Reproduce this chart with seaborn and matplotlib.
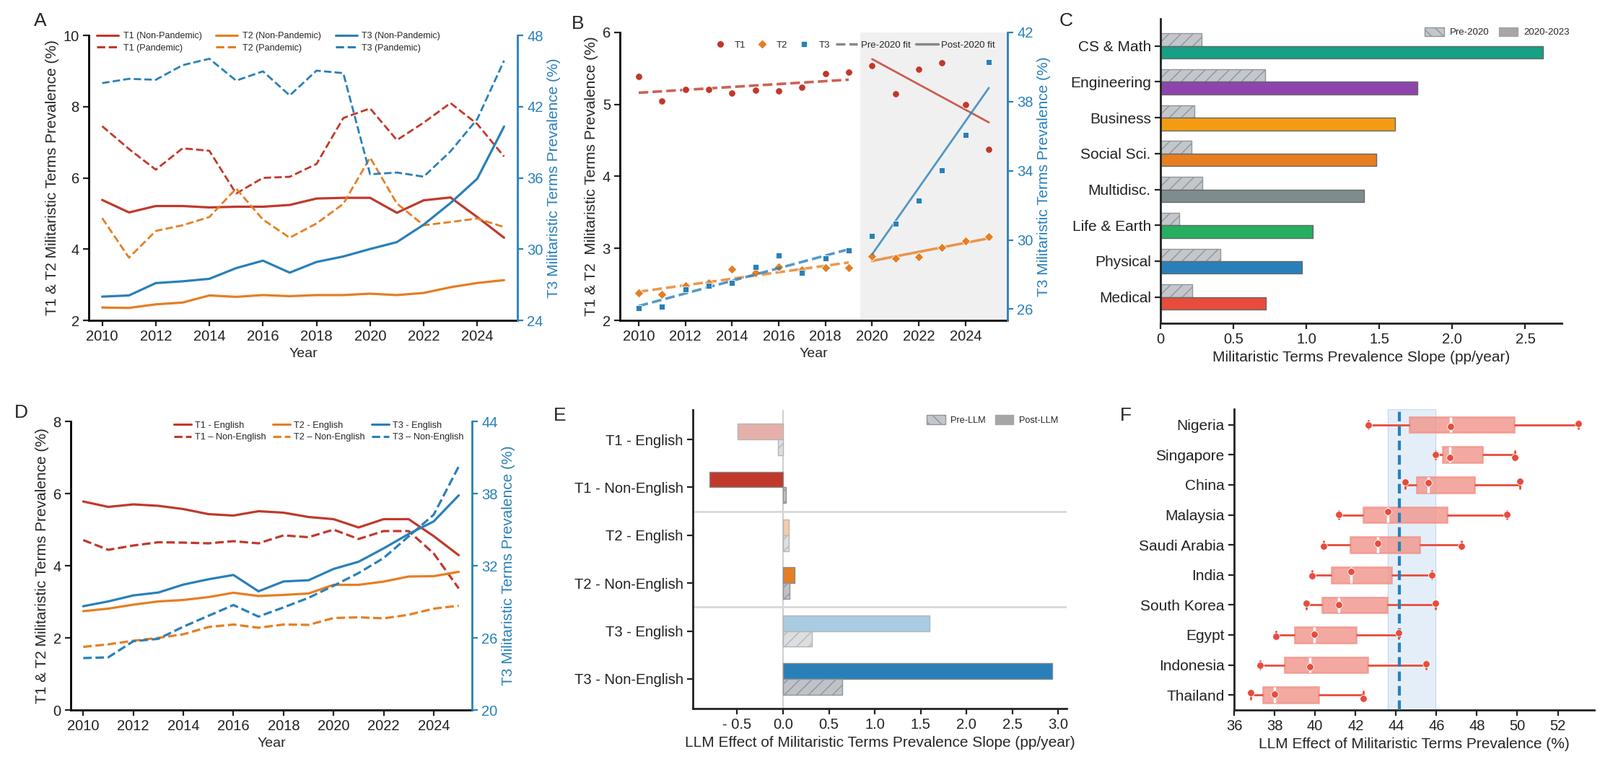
import numpy as np
import pandas as pd
import matplotlib
matplotlib.use("Agg")
import matplotlib.pyplot as plt
from matplotlib.lines import Line2D
from matplotlib.patches import Patch
import seaborn as sns

sns.set_theme(style="ticks")
plt.rcParams["font.family"] = ["Liberation Sans", "DejaVu Sans"]
plt.rcParams["axes.linewidth"] = 2
plt.rcParams["axes.edgecolor"] = "#222222"
plt.rcParams["xtick.major.width"] = 1.6
plt.rcParams["ytick.major.width"] = 1.6
plt.rcParams["xtick.major.size"] = 6
plt.rcParams["ytick.major.size"] = 6
plt.rcParams["xtick.color"] = "#222222"
plt.rcParams["ytick.color"] = "#222222"
plt.rcParams["hatch.linewidth"] = 1.0

RED, ORANGE, BLUE = "#c0392b", "#e67e22", "#2980b9"
TICK_FS, LAB_FS = 14.5, 15

years = np.arange(2010, 2026)

# ---------------- data ----------------
# A: pandemic vs non-pandemic topics
a_t1_np = [5.38, 5.03, 5.21, 5.21, 5.17, 5.19, 5.19, 5.24, 5.42, 5.44, 5.44, 5.02, 5.37, 5.45, 4.90, 4.32]
a_t1_p = [7.45, 6.81, 6.23, 6.83, 6.76, 5.56, 6.00, 6.03, 6.39, 7.68, 7.95, 7.06, 7.55, 8.10, 7.51, 6.60]
a_t2_np = [2.36, 2.35, 2.45, 2.50, 2.70, 2.66, 2.71, 2.68, 2.71, 2.71, 2.75, 2.71, 2.77, 2.93, 3.05, 3.13]
a_t2_p = [4.87, 3.76, 4.51, 4.67, 4.90, 5.70, 4.83, 4.32, 4.72, 5.27, 6.57, 5.28, 4.67, 4.76, 4.86, 4.62]
a_t3_np = [26.00, 26.10, 27.14, 27.29, 27.50, 28.40, 29.03, 28.02, 28.92, 29.38, 30.01, 30.59, 32.06, 33.88, 35.93, 40.32]
a_t3_p = [43.98, 44.34, 44.26, 45.49, 46.03, 44.19, 44.97, 42.94, 45.03, 44.82, 36.30, 36.45, 36.10, 38.23, 40.95, 45.87]

# B: yearly points, fits before / after 2020
b_t1 = [5.39, 5.05, 5.21, 5.21, 5.16, 5.20, 5.19, 5.24, 5.43, 5.45, 5.54, 5.15, 5.49, 5.58, 5.00, 4.38]
b_t2 = [2.38, 2.36, 2.48, 2.52, 2.71, 2.66, 2.74, 2.70, 2.73, 2.73, 2.89, 2.86, 2.88, 3.01, 3.10, 3.16]
b_t3 = [26.08, 26.15, 27.16, 27.34, 27.54, 28.42, 29.09, 28.09, 28.93, 29.41, 30.25, 30.94, 32.29, 34.05, 36.06, 40.30]

# C: slopes by field
fields = ["CS & Math", "Engineering", "Business", "Social Sci.", "Multidisc.",
          "Life & Earth", "Physical", "Medical"]
c_pre = [0.28, 0.717, 0.234, 0.215, 0.285, 0.128, 0.41, 0.22]
c_post = [2.62, 1.76, 1.605, 1.48, 1.397, 1.042, 0.97, 0.72]
c_colors = ["#16a085", "#8e44ad", "#f39c12", "#e67e22", "#7f8c8d", "#27ae60", "#2980b9", "#e74c3c"]

# D: English vs non-English
d_t1_en = [5.78, 5.63, 5.70, 5.66, 5.57, 5.43, 5.39, 5.51, 5.47, 5.35, 5.29, 5.06, 5.29, 5.29, 4.82, 4.29]
d_t1_ne = [4.71, 4.44, 4.56, 4.65, 4.64, 4.62, 4.68, 4.62, 4.84, 4.79, 5.00, 4.74, 4.96, 4.96, 4.34, 3.37]
d_t2_en = [2.74, 2.81, 2.92, 3.01, 3.05, 3.13, 3.25, 3.16, 3.19, 3.23, 3.47, 3.47, 3.56, 3.70, 3.71, 3.83]
d_t2_ne = [1.75, 1.82, 1.92, 2.00, 2.10, 2.30, 2.37, 2.28, 2.37, 2.36, 2.55, 2.57, 2.54, 2.64, 2.81, 2.89]
d_t3_en = [28.63, 29.03, 29.53, 29.77, 30.43, 30.87, 31.23, 29.87, 30.69, 30.79, 31.73, 32.33, 33.44, 34.64, 35.68, 37.85]
d_t3_ne = [24.32, 24.38, 25.72, 25.92, 26.93, 27.83, 28.73, 27.77, 28.53, 29.33, 30.33, 31.39, 32.64, 34.44, 36.24, 40.25]

# E: LLM effect on slopes
e_groups = ["T1 - English", "T1 - Non-English", "T2 - English", "T2 - Non-English",
            "T3 - English", "T3 - Non-English"]
e_post = [-0.494, -0.80, 0.063, 0.126, 1.60, 2.936]
e_pre = [-0.052, 0.033, 0.063, 0.07, 0.312, 0.642]
e_colors = ["#e6b0aa", "#c0392b", "#f5cba7", "#e67e22", "#a9cce3", "#2980b9"]

# F: country distributions
countries = ["Nigeria", "Singapore", "China", "Malaysia", "Saudi Arabia", "India",
             "South Korea", "Egypt", "Indonesia", "Thailand"]
f_values = [
    [42.63, 46.69, 53.02],
    [45.95, 46.66, 49.86],
    [44.47, 45.60, 50.13],
    [41.18, 43.60, 49.47],
    [40.42, 43.10, 47.25],
    [39.84, 41.78, 45.78],
    [39.56, 41.16, 45.95],
    [38.06, 39.96, 44.13],
    [37.30, 39.73, 45.49],
    [36.83, 38.00, 42.37],
]
f_ref = 44.18
f_band = (43.59, 45.95)


def dual_spines(ax, ax2):
    ax.spines["top"].set_visible(False)
    ax.spines["right"].set_visible(False)
    for s in ["top", "left", "bottom"]:
        ax2.spines[s].set_visible(False)
    ax2.spines["right"].set_color(BLUE)
    ax2.spines["right"].set_linewidth(2)
    ax2.tick_params(axis="y", colors=BLUE, labelsize=TICK_FS, width=1.6, length=6)
    ax2.yaxis.label.set_color(BLUE)
    ax.tick_params(labelsize=TICK_FS)
    ax.spines["left"].set_color("black")
    ax.spines["bottom"].set_color("black")


fig = plt.figure(figsize=(22.17, 10.63), dpi=100)

# ================= A =================
axA = fig.add_axes([0.0555, 0.5823, 0.2679, 0.3716])
axA2 = axA.twinx()
sns.lineplot(x=years, y=a_t1_np, ax=axA, color=RED, linewidth=2.3)
sns.lineplot(x=years, y=a_t1_p, ax=axA, color=RED, linewidth=2.0, linestyle="--")
sns.lineplot(x=years, y=a_t2_np, ax=axA, color=ORANGE, linewidth=2.3)
sns.lineplot(x=years, y=a_t2_p, ax=axA, color=ORANGE, linewidth=2.0, linestyle="--")
sns.lineplot(x=years, y=a_t3_np, ax=axA2, color=BLUE, linewidth=2.3)
sns.lineplot(x=years, y=a_t3_p, ax=axA2, color=BLUE, linewidth=2.0, linestyle="--")
axA.set_xlim(2009.5, 2025.5)
axA.set_ylim(2, 10)
axA.set_yticks([2, 4, 6, 8, 10])
axA.set_xticks(range(2010, 2025, 2))
axA2.set_ylim(24, 48)
axA2.set_yticks([24, 30, 36, 42, 48])
axA.set_xlabel("Year", fontsize=14)
axA.set_ylabel("T1 & T2 Militaristic Terms Prevalence (%)", fontsize=LAB_FS)
axA2.set_ylabel("T3 Militaristic Terms Prevalence (%)", fontsize=LAB_FS)
dual_spines(axA, axA2)
hA = [Line2D([], [], color=RED, lw=2.2), Line2D([], [], color=RED, lw=2.2, ls="--"),
      Line2D([], [], color=ORANGE, lw=2.2), Line2D([], [], color=ORANGE, lw=2.2, ls="--"),
      Line2D([], [], color=BLUE, lw=2.2), Line2D([], [], color=BLUE, lw=2.2, ls="--")]
lA = ["T1 (Non-Pandemic)", "T1 (Pandemic)", "T2 (Non-Pandemic)", "T2 (Pandemic)",
      "T3 (Non-Pandemic)", "T3 (Pandemic)"]
axA2.legend(hA, lA, ncol=3, loc="upper left", bbox_to_anchor=(0.0, 1.04), frameon=False,
            fontsize=9, handlelength=2.4, columnspacing=1.6, handletextpad=0.5,
            labelspacing=0.35)

# ================= B =================
axB = fig.add_axes([0.3875, 0.5823, 0.2422, 0.3754])
axB.axvspan(2019.5, 2025.8, color="#f0f0f0", zorder=0, lw=0)
axB2 = axB.twinx()
pre, post = years < 2020, years >= 2020
b1, b2, b3 = np.array(b_t1), np.array(b_t2), np.array(b_t3)
sns.regplot(x=years[pre], y=b1[pre], ax=axB, scatter=False, ci=None, color=RED,
            line_kws=dict(ls="--", lw=2.6, alpha=0.8))
sns.regplot(x=years[post], y=b1[post], ax=axB, scatter=False, ci=None, color=RED,
            line_kws=dict(lw=2.0, alpha=0.8))
sns.regplot(x=years[pre], y=b2[pre], ax=axB, scatter=False, ci=None, color=ORANGE,
            line_kws=dict(ls="--", lw=2.6, alpha=0.8))
sns.regplot(x=years[post], y=b2[post], ax=axB, scatter=False, ci=None, color=ORANGE,
            line_kws=dict(lw=2.6, alpha=0.8))
sns.scatterplot(x=years, y=b1, ax=axB, color=RED, marker="o", s=48, edgecolor="white",
                linewidth=0.6, zorder=4)
sns.scatterplot(x=years, y=b2, ax=axB, color=ORANGE, marker="D", s=42, edgecolor="white",
                linewidth=0.6, zorder=4)
sns.regplot(x=years[pre], y=b3[pre], ax=axB2, scatter=False, ci=None, color=BLUE,
            line_kws=dict(ls="--", lw=2.6, alpha=0.8))
sns.regplot(x=years[post], y=b3[post], ax=axB2, scatter=False, ci=None, color=BLUE,
            line_kws=dict(lw=2.0, alpha=0.8))
sns.scatterplot(x=years, y=b3, ax=axB2, color=BLUE, marker="s", s=40, edgecolor="white",
                linewidth=0.6, zorder=4)
axB.set_xlim(2009.2, 2025.8)
axB.set_ylim(2, 6)
axB.set_yticks([2, 3, 4, 5, 6])
axB.set_xticks(range(2010, 2025, 2))
axB2.set_ylim(25.35, 42)
axB2.set_yticks([26, 30, 34, 38, 42])
axB.set_xlabel("Year", fontsize=14)
axB.set_ylabel("T1 & T2  Militaristic Terms Prevalence (%)", fontsize=LAB_FS)
axB2.set_ylabel("T3 Militaristic Terms Prevalence (%)", fontsize=LAB_FS)
dual_spines(axB, axB2)
hB = [Line2D([], [], marker="o", color=RED, ls="", ms=5.5),
      Line2D([], [], marker="D", color=ORANGE, ls="", ms=5),
      Line2D([], [], marker="s", color=BLUE, ls="", ms=5),
      Line2D([], [], color="#888888", lw=2.5, ls="--"),
      Line2D([], [], color="#888888", lw=2.5)]
axB2.legend(hB, ["T1", "T2", "T3", "Pre-2020 fit", "Post-2020 fit"], ncol=5,
            loc="upper right", bbox_to_anchor=(0.99, 1.0), frameon=False, fontsize=9.5,
            handlelength=2.3, columnspacing=0.6, handletextpad=0.35)

# ================= C =================
axC = fig.add_axes([0.7253, 0.5786, 0.2508, 0.397])
df_c = pd.DataFrame({"field": fields * 2,
                     "period": ["Pre-2020"] * len(fields) + ["2020-2023"] * len(fields),
                     "slope": c_pre + c_post})
sns.barplot(data=df_c, y="field", x="slope", hue="period", order=fields,
            hue_order=["Pre-2020", "2020-2023"], orient="h", width=0.7, gap=0,
            errorbar=None, saturation=1, legend=False, ax=axC)
for p in axC.containers[0]:
    p.set_facecolor("#c3c7cb")
    p.set_edgecolor("#8f959a")
    p.set_hatch("//")
    p.set_linewidth(1)
for p in axC.containers[1]:
    i = int(round(p.get_y() + p.get_height() / 2))
    p.set_facecolor(c_colors[i])
    p.set_edgecolor("#666666")
    p.set_linewidth(1)
axC.set_xlim(0, 2.75)
axC.set_ylim(7.73, -0.76)
axC.set_xticks([0, 0.5, 1.0, 1.5, 2.0, 2.5])
axC.set_xticklabels(["0", "0.5", "1.0", "1.5", "2.0", "2.5"])
axC.set_xlabel("Militaristic Terms Prevalence Slope (pp/year)", fontsize=LAB_FS)
axC.set_ylabel("")
axC.tick_params(axis="x", labelsize=TICK_FS)
axC.tick_params(axis="y", labelsize=LAB_FS)
sns.despine(ax=axC)
hC = [Patch(facecolor="#c3c7cb", edgecolor="#8f959a", hatch="\\\\", label="Pre-2020"),
      Patch(facecolor="#a6a6a6", edgecolor="#a6a6a6", label="2020-2023")]
axC.legend(handles=hC, ncol=2, loc="upper right", bbox_to_anchor=(1.04, 1.0), frameon=False,
           fontsize=9.5, handlelength=2.0, handleheight=1.0, columnspacing=1.0,
           handletextpad=0.6)

# ================= D =================
axD = fig.add_axes([0.0442, 0.0743, 0.2508, 0.3763])
axD2 = axD.twinx()
sns.lineplot(x=years, y=d_t1_en, ax=axD, color=RED, linewidth=2.3)
sns.lineplot(x=years, y=d_t1_ne, ax=axD, color=RED, linewidth=2.3, linestyle="--")
sns.lineplot(x=years, y=d_t2_en, ax=axD, color=ORANGE, linewidth=2.3)
sns.lineplot(x=years, y=d_t2_ne, ax=axD, color=ORANGE, linewidth=2.3, linestyle="--")
sns.lineplot(x=years, y=d_t3_en, ax=axD2, color=BLUE, linewidth=2.3)
sns.lineplot(x=years, y=d_t3_ne, ax=axD2, color=BLUE, linewidth=2.3, linestyle="--")
axD.set_xlim(2009.5, 2025.53)
axD.set_ylim(0, 8)
axD.set_yticks([0, 2, 4, 6, 8])
axD.set_xticks(range(2010, 2025, 2))
axD2.set_ylim(20, 44)
axD2.set_yticks([20, 26, 32, 38, 44])
axD.set_xlabel("Year", fontsize=14)
axD.set_ylabel("T1 & T2 Militaristic Terms Prevalence (%)", fontsize=LAB_FS)
axD2.set_ylabel("T3 Militaristic Terms Prevalence (%)", fontsize=LAB_FS)
dual_spines(axD, axD2)
hD = [Line2D([], [], color=RED, lw=2.2), Line2D([], [], color=RED, lw=2.2, ls="--"),
      Line2D([], [], color=ORANGE, lw=2.2), Line2D([], [], color=ORANGE, lw=2.2, ls="--"),
      Line2D([], [], color=BLUE, lw=2.2), Line2D([], [], color=BLUE, lw=2.2, ls="--")]
lD = ["T1 - English", "T1 \u2013 Non-English", "T2 - English", "T2 \u2013 Non-English",
      "T3 - English", "T3 \u2013 Non-English"]
axD2.legend(hD, lD, ncol=3, loc="upper right", bbox_to_anchor=(1.0, 1.03), frameon=False,
            fontsize=9.2, handlelength=1.9, columnspacing=0.7, handletextpad=0.4,
            labelspacing=0.35)

# ================= E =================
axE = fig.add_axes([0.433, 0.0762, 0.2336, 0.3895])
axE.axvline(0, color="#d0d0d0", lw=1.5, zorder=0)
for yy in [1.5, 3.5]:
    axE.axhline(yy, color="#d8d8d8", lw=2, zorder=0)
df_e = pd.DataFrame({"group": e_groups * 2,
                     "period": ["Post-LLM"] * len(e_groups) + ["Pre-LLM"] * len(e_groups),
                     "slope": e_post + e_pre})
sns.barplot(data=df_e, y="group", x="slope", hue="period", order=e_groups,
            hue_order=["Post-LLM", "Pre-LLM"], orient="h", width=0.66, gap=0,
            errorbar=None, saturation=1, legend=False, ax=axE)
for p in axE.containers[0]:
    i = int(round(p.get_y() + p.get_height() / 2))
    p.set_facecolor(e_colors[i])
    p.set_edgecolor("#8a8a8a" if i % 2 else "#b5b5b5")
    p.set_linewidth(1)
for p in axE.containers[1]:
    i = int(round(p.get_y() + p.get_height() / 2))
    english = i % 2 == 0
    p.set_facecolor("#dcdee0" if english else "#bfc3c7")
    p.set_edgecolor("#b3b6b9" if english else "#8f959a")
    p.set_hatch("//")
    p.set_linewidth(1)
axE.set_xlim(-0.984, 3.09)
axE.set_ylim(5.62, -0.62)
axE.set_xticks([-0.5, 0, 0.5, 1.0, 1.5, 2.0, 2.5, 3.0])
axE.set_xticklabels(["- 0.5", "0.0", "0.5", "1.0", "1.5", "2.0", "2.5", "3.0"])
axE.set_xlabel("LLM Effect of Militaristic Terms Prevalence Slope (pp/year)", fontsize=LAB_FS)
axE.set_ylabel("")
axE.tick_params(labelsize=TICK_FS)
sns.despine(ax=axE)
hE = [Patch(facecolor="#c3c7cb", edgecolor="#8f959a", hatch="\\\\", label="Pre-LLM"),
      Patch(facecolor="#a6a6a6", edgecolor="#a6a6a6", label="Post-LLM")]
axE.legend(handles=hE, ncol=2, loc="upper right", bbox_to_anchor=(1.0, 1.01), frameon=False,
           fontsize=9.2, handlelength=2.0, handleheight=1.1, columnspacing=1.0,
           handletextpad=0.6)

# ================= F =================
axF = fig.add_axes([0.7713, 0.0743, 0.2251, 0.3923])
df_f = pd.DataFrame({"country": np.repeat(countries, 3),
                     "value": np.concatenate(f_values)})
axF.axvspan(*f_band, facecolor="#e3eef8", edgecolor="#c9dced", lw=1, zorder=0)
sns.boxplot(data=df_f, y="country", x="value", order=countries, orient="h", width=0.52,
            color="#f1948a", linecolor="#e74c3c", linewidth=2, saturation=1, ax=axF,
            boxprops=dict(alpha=0.8, edgecolor="#f1948a"),
            medianprops=dict(color="white", linewidth=2.5, alpha=1))
np.random.seed(3)
sns.stripplot(data=df_f, y="country", x="value", order=countries, orient="h",
              color="#e74c3c", size=7, jitter=0.12, edgecolor="white", linewidth=0.6,
              zorder=4, ax=axF)
axF.axvline(f_ref, color=BLUE, ls=(0, (3.2, 1.6)), lw=3, zorder=3)
axF.set_xlim(36, 53.8)
axF.set_ylim(9.5, -0.52)
axF.set_xticks(range(36, 53, 2))
axF.set_xlabel("LLM Effect of Militaristic Terms Prevalence (%)", fontsize=LAB_FS)
axF.set_ylabel("")
axF.tick_params(axis="x", labelsize=TICK_FS)
axF.tick_params(axis="y", labelsize=LAB_FS)
sns.despine(ax=axF)

# panel letters
for lab, x, y in [("A", 0.021, 0.984), ("B", 0.357, 0.980), ("C", 0.662, 0.984),
                  ("D", 0.009, 0.473), ("E", 0.346, 0.469), ("F", 0.700, 0.469)]:
    fig.text(x, y, lab, fontsize=19, ha="left", va="top")

fig.savefig("out.png", dpi=100)
